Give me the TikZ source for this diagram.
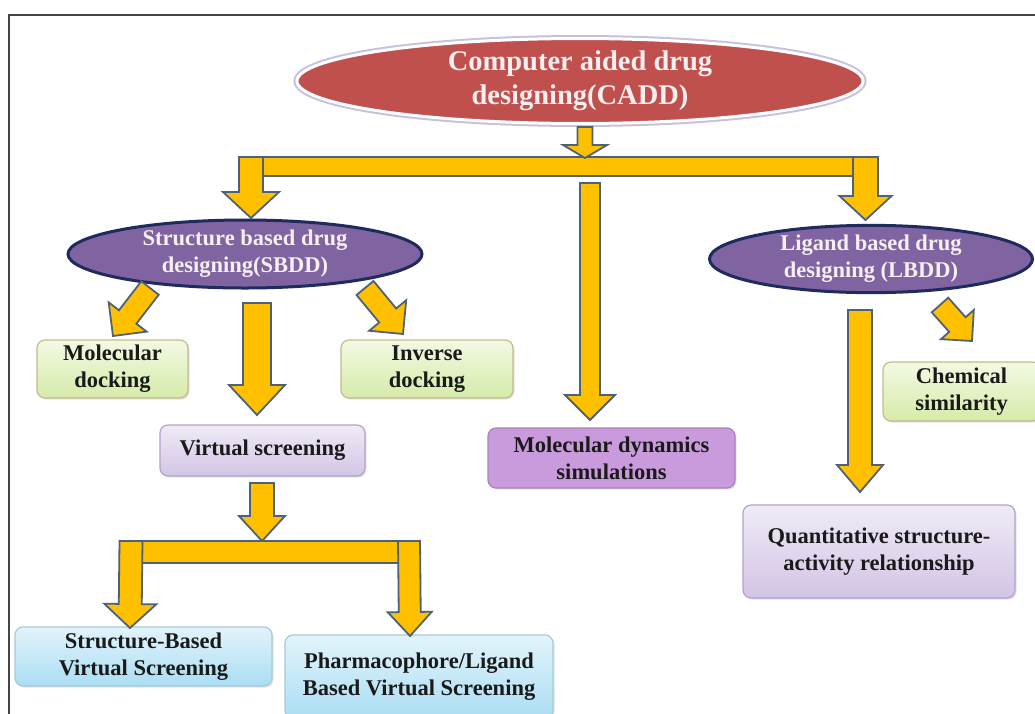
\documentclass[tikz,border=0pt]{standalone}
\usepackage{fontspec}
\setmainfont{Liberation Serif}
\usetikzlibrary{shapes.geometric,calc,shadows}
\definecolor{gold}{HTML}{FFC000}
\definecolor{arrowline}{HTML}{4D6279}
\definecolor{caddRed}{HTML}{C0504D}
\definecolor{caddGlow}{HTML}{C9C0DD}
\definecolor{ellPurple}{HTML}{8064A2}
\definecolor{ellBorder}{HTML}{1F2A5E}
\definecolor{ellText}{HTML}{F7EEF0}
\definecolor{boxText}{HTML}{1A1A1A}
\definecolor{greenTop}{HTML}{F3F9E3}
\definecolor{greenBot}{HTML}{D5EBA9}
\definecolor{greenBorder}{HTML}{C6B98C}
\definecolor{lavTop}{HTML}{F0EBF6}
\definecolor{lavBot}{HTML}{D3C4E6}
\definecolor{lavBorder}{HTML}{B3A3C8}
\definecolor{mdFill}{HTML}{C99BDC}
\definecolor{mdBorder}{HTML}{A783B8}
\definecolor{blueTop}{HTML}{E2F4FB}
\definecolor{blueBot}{HTML}{AADDF3}
\definecolor{blueBorder}{HTML}{A7CADA}
\definecolor{frameGray}{HTML}{454545}
\tikzset{
  barrow/.style={fill=gold, draw=arrowline, line width=1.8pt, line join=miter},
  txt/.style={font=\bfseries\fontsize{22.5}{27}\selectfont},
  ell/.style={ellipse, inner sep=0pt, align=center, txt, text=ellText},
  purpleell/.style={ell, fill=ellPurple, draw=ellBorder, line width=3pt},
  box/.style={rectangle, rounded corners=8pt, inner sep=0pt, align=center, line width=1.2pt, txt, text=boxText,
    drop shadow={opacity=0.22, shadow xshift=1.5pt, shadow yshift=-1.5pt}},
  greenbox/.style={box, draw=greenBorder, top color=greenTop, bottom color=greenBot},
  lavbox/.style={box, draw=lavBorder, top color=lavTop, bottom color=lavBot},
  bluebox/.style={box, draw=blueBorder, top color=blueTop, bottom color=blueBot},
  mdbox/.style={box, draw=mdBorder, fill=mdFill}
}
% block arrow from #1 to #2: half shaft width #3, half head width #4, head length #5
\newcommand\blockarrow[5]{%
  \path let \p1=(#1), \p2=(#2), \n1={atan2(\y2-\y1,\x2-\x1)}, \n2={veclen(\x2-\x1,\y2-\y1)} in
    [barrow, shift={(\p1)}, rotate=\n1]
    (0,{-#3}) -- ({\n2-#5},{-#3}) -- ({\n2-#5},{-#4}) -- ({\n2},0) -- ({\n2-#5},{#4}) -- ({\n2-#5},{#3}) -- (0,{#3}) -- cycle;
}
\begin{document}
\begin{tikzpicture}[x=1pt, y=-1pt]
\clip (0,0) rectangle (1035,713);
\fill[white] (0,0) rectangle (1035,713);
% frame
\draw[frameGray, line width=2pt] (9,730) -- (9,15) -- (1050,15);

% nodes
\node[ell, fill=caddRed, draw=white, line width=3pt, preaction={draw=caddGlow, line width=7pt},
  minimum width=566pt, minimum height=70pt, font=\bfseries\fontsize{28.5}{34}\selectfont] (cadd) at (580,81)
  {Computer aided drug\\designing(CADD)};
\node[purpleell, minimum width=354pt, minimum height=68pt] (sbdd) at (245,254)
  {Structure based drug\\designing(SBDD)};
\node[purpleell, minimum width=323pt, minimum height=64pt] (lbdd) at (871,259)
  {Ligand based drug\\designing (LBDD)};

\node[greenbox, minimum width=151pt, minimum height=58pt] (mdock) at (112.5,369) {Molecular\\docking};
\node[greenbox, minimum width=172pt, minimum height=58pt] (idock) at (427,369) {Inverse\\docking};
\node[lavbox, minimum width=205pt, minimum height=51pt] (vs) at (262.5,450.5) {Virtual screening};
\node[bluebox, minimum width=257pt, minimum height=59pt] (sbvs) at (143.5,656.5) {Structure-Based\\Virtual Screening};
\node[bluebox, minimum width=268pt, minimum height=84pt] (pharm) at (419,677) {Pharmacophore/Ligand\\Based Virtual Screening};
\node[mdbox, minimum width=247pt, minimum height=60pt] (md) at (611.5,458) {Molecular dynamics\\simulations};
\node[greenbox, minimum width=157pt, minimum height=59pt] (chem) at (961.5,391.5) {Chemical\\similarity};
\node[lavbox, minimum width=272pt, minimum height=93pt] (qsar) at (879,551.5) {Quantitative structure-\\activity relationship};

% arrow end points
\coordinate (a0s) at (585,127);  \coordinate (a0e) at (585,158);
\coordinate (aLs) at (251,157);  \coordinate (aLe) at (251,218);
\coordinate (aRs) at (865.5,157);\coordinate (aRe) at (865.5,220);
\coordinate (aMs) at (590,183);  \coordinate (aMe) at (590,420);
\coordinate (s1s) at (150,288);  \coordinate (s1e) at (113,336);
\coordinate (s2s) at (257,303);  \coordinate (s2e) at (257,415);
\coordinate (s3s) at (365,288);  \coordinate (s3e) at (403,334);
\coordinate (v0s) at (262,483);  \coordinate (v0e) at (262,541);
\coordinate (v1s) at (131,541);  \coordinate (v1e) at (130,628);
\coordinate (v2s) at (409,541);  \coordinate (v2e) at (410,636);
\coordinate (l1s) at (860,310);  \coordinate (l1e) at (860,492);
\coordinate (l2s) at (940,305);  \coordinate (l2e) at (972,341);

% top distribution bar
\draw[barrow] (239,157) rectangle (878,176);
\blockarrow{a0s}{a0e}{7.5}{22}{13}
\blockarrow{aLs}{aLe}{12}{28}{26}
\blockarrow{aRs}{aRe}{12.5}{26}{24}
\blockarrow{aMs}{aMe}{10}{25}{25}
% SBDD arrows
\blockarrow{s1s}{s1e}{11}{24}{24}
\blockarrow{s2s}{s2e}{14}{28}{30}
\blockarrow{s3s}{s3e}{11}{24}{24}
% virtual screening arrows
\blockarrow{v0s}{v0e}{12}{23}{25}
\draw[barrow] (120,541) rectangle (420,563);
\blockarrow{v1s}{v1e}{11.5}{26}{24}
\blockarrow{v2s}{v2e}{11}{22}{24}
% LBDD arrows
\blockarrow{l1s}{l1e}{12}{23}{27}
\blockarrow{l2s}{l2e}{11}{22}{22}
\end{tikzpicture}
\end{document}
